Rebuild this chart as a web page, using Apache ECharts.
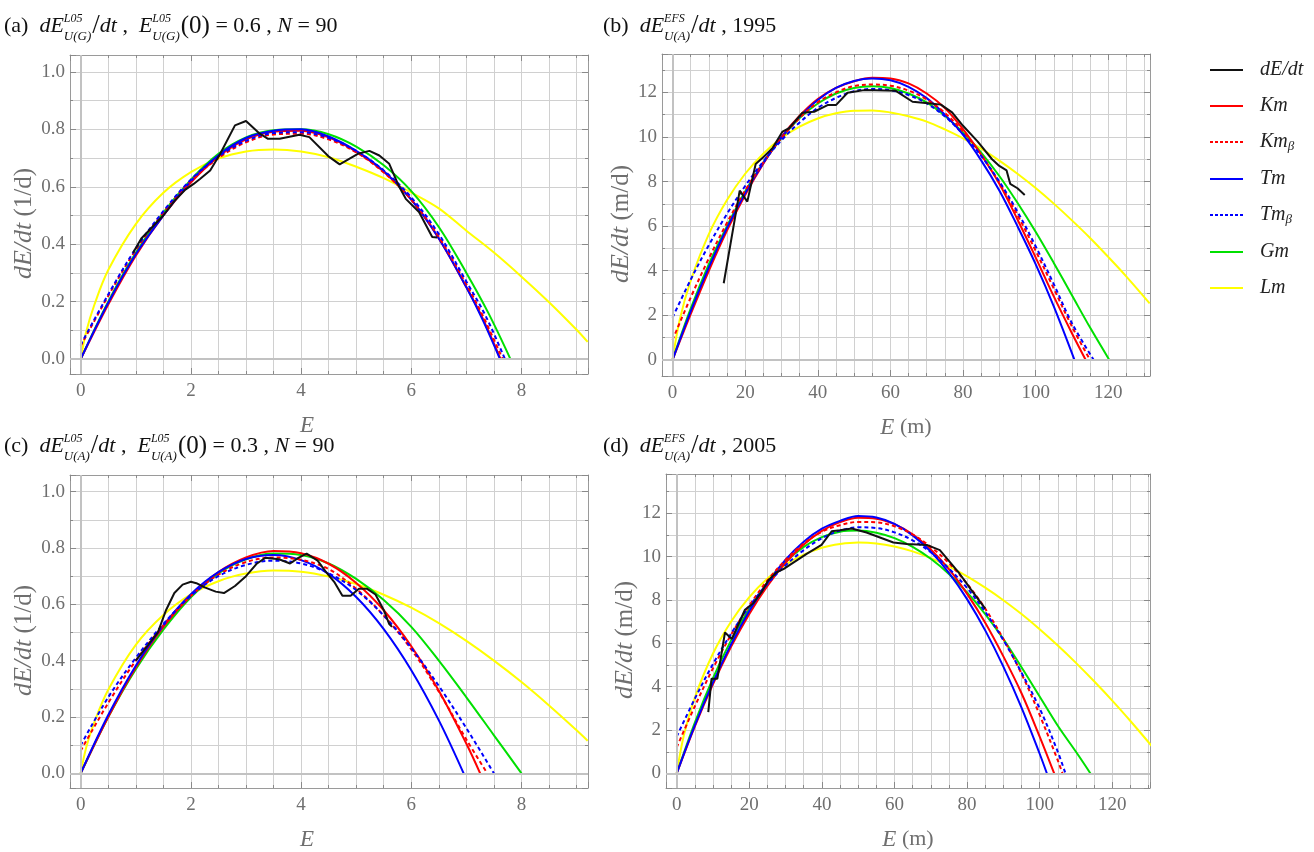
<!DOCTYPE html>
<html>
<head>
<meta charset="utf-8">
<title>dE/dt model fits</title>
<script src="https://cdn.jsdelivr.net/npm/echarts@6/dist/echarts.min.js"></script>
<style>
  html, body { margin: 0; padding: 0; background: #fff; }
  #main { width: 1314px; height: 852px; }
</style>
</head>
<body>
<div id="main"></div>
<script>
// (a) dE/dt of E^L05_U(G), E(0)=0.6, N=90   [E, dE/dt]
var aObs = [[0.95,0.37],[1.1,0.42],[1.3,0.46],[1.5,0.5],[1.7,0.55],[1.9,0.59],[2.05,0.61],[2.17,0.628],[2.35,0.657],[2.53,0.714],[2.8,0.814],[3.0,0.829],[3.25,0.785],[3.4,0.767],[3.61,0.767],[3.97,0.781],[4.15,0.773],[4.51,0.704],[4.7,0.678],[5.03,0.715],[5.24,0.725],[5.42,0.709],[5.6,0.68],[5.78,0.6],[5.9,0.558],[6.14,0.512],[6.38,0.425],[6.47,0.423]];
var aKm  = [[0,0],[0.5,0.19],[1,0.36],[1.5,0.5],[2,0.615],[2.5,0.705],[3,0.765],[3.5,0.792],[4,0.795],[4.5,0.772],[5,0.722],[5.5,0.652],[6,0.555],[6.5,0.42],[7,0.25],[7.3,0.14],[7.62,0]];
var aKmB = [[0,0.045],[0.5,0.22],[1,0.38],[1.5,0.51],[2,0.62],[2.5,0.7],[3,0.755],[3.5,0.782],[4,0.785],[4.5,0.765],[5,0.72],[5.5,0.65],[6,0.555],[6.5,0.425],[7,0.26],[7.3,0.15],[7.66,0]];
var aTm  = [[0,0],[0.5,0.196],[1,0.365],[1.5,0.5],[2,0.62],[2.5,0.71],[3,0.77],[3.5,0.795],[4,0.8],[4.5,0.775],[5,0.725],[5.5,0.655],[6,0.555],[6.5,0.42],[7,0.25],[7.3,0.135],[7.61,0]];
var aTmB = [[0,0.05],[0.5,0.225],[1,0.385],[1.5,0.515],[2,0.625],[2.5,0.705],[3,0.76],[3.5,0.787],[4,0.79],[4.5,0.77],[5,0.725],[5.5,0.657],[6,0.563],[6.5,0.435],[7,0.27],[7.35,0.15],[7.7,0]];
var aGm  = [[0,0],[0.5,0.2],[1,0.37],[1.5,0.51],[2,0.625],[2.5,0.715],[3,0.772],[3.5,0.797],[4,0.8],[4.5,0.783],[5,0.74],[5.5,0.675],[6,0.585],[6.5,0.46],[7,0.3],[7.4,0.16],[7.8,0]];
var aLm  = [[0,0],[0.1,0.095],[0.25,0.19],[0.5,0.31],[1,0.47],[1.5,0.579],[2,0.651],[2.5,0.698],[3,0.723],[3.5,0.73],[4,0.723],[4.5,0.703],[5,0.67],[5.5,0.63],[6,0.58],[6.5,0.525],[7,0.447],[7.5,0.371],[8,0.287],[8.5,0.198],[9,0.102],[9.2,0.06]];

// (b) dE^EFS_U(A)/dt, 1995   [E (m), dE/dt (m/d)]
var bObs = [[14.1,3.44],[18.5,7.59],[20.6,7.1],[22.9,8.79],[25.2,9.12],[27.5,9.49],[30.3,10.24],[32.1,10.39],[35.8,11.09],[39.0,11.13],[42.7,11.43],[45.0,11.43],[48.2,11.98],[52.8,12.1],[61.5,12.07],[66.1,11.58],[71.1,11.5],[73.9,11.45],[77,11.1],[80,10.5],[84,9.8],[88,9.0],[90,8.7],[92,8.5],[93,7.9],[95,7.7],[97,7.4]];
var bKm  = [[0,0],[5,2.05],[10,4.0],[15,5.8],[20,7.4],[25,8.8],[30,10.0],[35,10.95],[40,11.7],[45,12.2],[50,12.5],[55,12.65],[60,12.62],[65,12.4],[70,11.95],[75,11.3],[80,10.35],[85,9.2],[90,7.9],[95,6.3],[100,4.6],[105,2.85],[110,1.2],[113.8,0]];
var bKmB = [[0,0.9],[5,2.8],[10,4.55],[15,6.15],[20,7.6],[25,8.85],[30,9.95],[35,10.85],[40,11.55],[45,12.0],[50,12.28],[55,12.35],[60,12.3],[65,12.08],[70,11.68],[75,11.08],[80,10.25],[85,9.2],[90,7.95],[95,6.5],[100,4.9],[105,3.2],[110,1.5],[115,0]];
var bTm  = [[0,0],[5,2.18],[10,4.15],[15,5.92],[20,7.48],[25,8.83],[30,9.98],[35,10.9],[40,11.66],[45,12.2],[50,12.51],[55,12.62],[60,12.54],[65,12.25],[70,11.74],[75,11.0],[80,10.1],[85,8.95],[90,7.6],[95,6.0],[100,4.3],[105,2.4],[110.7,0]];
var bTmB = [[0,1.9],[5,3.6],[10,5.15],[15,6.55],[20,7.8],[25,8.9],[30,9.85],[35,10.65],[40,11.3],[45,11.75],[50,12.05],[55,12.15],[60,12.1],[65,11.88],[70,11.5],[75,10.92],[80,10.12],[85,9.15],[90,8.0],[95,6.65],[100,5.1],[105,3.4],[110,1.65],[116,0]];
var bGm  = [[0,0],[5,2.3],[10,4.3],[15,6.0],[20,7.55],[25,8.85],[30,9.95],[35,10.85],[40,11.5],[45,11.95],[50,12.2],[55,12.27],[60,12.2],[65,11.95],[70,11.55],[75,10.95],[80,10.2],[85,9.3],[90,8.25],[95,7.05],[100,5.75],[105,4.35],[110,2.9],[115,1.45],[120.3,0]];
var bLm  = [[0,0],[2,1.81],[5,3.55],[10,5.64],[15,7.17],[20,8.35],[25,9.25],[30,9.95],[35,10.46],[40,10.83],[45,11.06],[50,11.18],[55,11.19],[60,11.1],[65,10.93],[70,10.69],[75,10.34],[80,9.94],[85,9.48],[90,8.94],[95,8.35],[100,7.71],[105,7.01],[110,6.26],[115,5.47],[120,4.62],[125,3.74],[131.4,2.54]];

// (c) dE/dt of E^L05_U(A), E(0)=0.3, N=90
var cObs = [[1.0,0.4],[1.2,0.45],[1.4,0.5],[1.55,0.58],[1.7,0.64],[1.85,0.67],[2.0,0.68],[2.1,0.675],[2.25,0.66],[2.45,0.645],[2.6,0.64],[2.8,0.665],[3.0,0.7],[3.2,0.745],[3.35,0.765],[3.6,0.76],[3.8,0.745],[3.95,0.765],[4.1,0.78],[4.3,0.755],[4.45,0.715],[4.6,0.68],[4.75,0.63],[4.9,0.63],[5.05,0.655],[5.2,0.655],[5.35,0.635],[5.5,0.58],[5.6,0.53],[5.65,0.52]];
var cKm  = [[0,0],[0.5,0.2],[1,0.376],[1.5,0.52],[2,0.631],[2.5,0.714],[3,0.766],[3.5,0.789],[4,0.781],[4.5,0.744],[5,0.676],[5.5,0.579],[6,0.451],[6.5,0.293],[7,0.105],[7.25,0]];
var cKmB = [[0,0.08],[0.5,0.25],[1,0.4],[1.5,0.525],[2,0.63],[2.5,0.705],[3,0.75],[3.5,0.766],[4,0.758],[4.5,0.725],[5,0.655],[5.5,0.56],[6,0.44],[6.5,0.29],[7,0.12],[7.38,0]];
var cTm  = [[0,0],[0.5,0.207],[1,0.382],[1.5,0.525],[2,0.636],[2.5,0.714],[3,0.761],[3.5,0.775],[4,0.757],[4.5,0.708],[5,0.626],[5.5,0.512],[6,0.366],[6.5,0.188],[6.95,0]];
var cTmB = [[0,0.1],[0.5,0.27],[1,0.41],[1.5,0.53],[2,0.63],[2.5,0.7],[3,0.74],[3.5,0.755],[4,0.745],[4.5,0.71],[5,0.65],[5.5,0.56],[6,0.445],[6.5,0.31],[7,0.16],[7.5,0]];
var cGm  = [[0,0],[0.5,0.2],[1,0.37],[1.5,0.51],[2,0.625],[2.5,0.71],[3,0.76],[3.5,0.78],[4,0.775],[4.5,0.745],[5,0.69],[5.5,0.615],[6,0.52],[6.5,0.4],[7,0.27],[7.5,0.135],[8,0]];
var cLm  = [[0,0],[0.1,0.092],[0.25,0.183],[0.5,0.297],[1,0.456],[1.5,0.562],[2,0.635],[2.5,0.682],[3,0.709],[3.5,0.72],[4,0.716],[4.5,0.699],[5,0.672],[5.5,0.634],[6,0.588],[6.5,0.533],[7,0.47],[7.5,0.4],[8,0.324],[8.5,0.241],[9,0.153],[9.2,0.116]];

// (d) dE^EFS_U(A)/dt, 2005
var dObs = [[8.7,2.83],[9.6,4.37],[11.2,4.37],[13.3,6.5],[15.2,6.2],[18.8,7.55],[21.1,7.85],[23.4,8.37],[25.2,8.9],[27.5,9.27],[29.4,9.42],[35.8,10.13],[39.9,10.54],[42.7,11.17],[45.0,11.22],[48.2,11.3],[52.3,11.11],[56.0,10.88],[59.7,10.65],[63.4,10.58],[68.9,10.54],[72.5,10.3],[75,9.8],[78,9.2],[81,8.5],[85,7.6]];
var dKm  = [[0,0],[5,2.17],[10,4.12],[15,5.85],[20,7.36],[25,8.65],[30,9.72],[35,10.56],[40,11.19],[45,11.59],[50,11.79],[55,11.75],[60,11.5],[65,11.03],[70,10.33],[75,9.42],[80,8.28],[85,6.95],[90,5.4],[95,3.7],[100,1.7],[104,0]];
var dKmB = [[0,1.2],[5,3.1],[10,4.85],[15,6.4],[20,7.75],[25,8.9],[30,9.85],[35,10.6],[40,11.15],[45,11.45],[50,11.6],[55,11.58],[60,11.4],[65,11.02],[70,10.45],[75,9.7],[80,8.75],[85,7.6],[90,6.2],[95,4.6],[100,2.7],[105,0.6],[106.3,0]];
var dTm  = [[0,0],[5,2.22],[10,4.2],[15,5.96],[20,7.49],[25,8.79],[30,9.86],[35,10.69],[40,11.29],[45,11.65],[50,11.87],[55,11.8],[60,11.51],[65,10.98],[70,10.23],[75,9.25],[80,8.04],[85,6.6],[90,4.93],[95,3.04],[100,0.91],[102,0]];
var dTmB = [[0,1.7],[5,3.45],[10,5.05],[15,6.45],[20,7.7],[25,8.75],[30,9.6],[35,10.3],[40,10.85],[45,11.2],[50,11.35],[55,11.32],[60,11.12],[65,10.75],[70,10.2],[75,9.45],[80,8.55],[85,7.45],[90,6.15],[95,4.65],[100,3.0],[105,1.0],[107.1,0]];
var dGm  = [[0,0],[5,2.35],[10,4.4],[15,6.15],[20,7.6],[25,8.8],[30,9.75],[35,10.45],[40,10.9],[45,11.15],[50,11.2],[55,11.1],[60,10.85],[65,10.45],[70,9.9],[75,9.2],[80,8.35],[85,7.35],[90,6.2],[95,4.9],[100,3.55],[105,2.2],[110,1.0],[114,0]];
var dLm  = [[0,0],[2,1.79],[5,3.5],[10,5.53],[15,7.01],[20,8.13],[25,8.99],[30,9.63],[35,10.09],[40,10.41],[45,10.58],[50,10.65],[55,10.61],[60,10.47],[65,10.24],[70,9.93],[75,9.55],[80,9.09],[85,8.57],[90,7.99],[95,7.35],[100,6.65],[105,5.9],[110,5.1],[115,4.25],[120,3.36],[125,2.42],[130,1.44],[132,1.04]];

var seriesNames = ['dE/dt', 'Km', 'Kmβ', 'Tm', 'Tmβ', 'Gm', 'Lm'];

var SERIF = "'Liberation Serif', 'Times New Roman', serif";
var GRAY = '#6f6f6f';

var lineStyles = {
  'dE/dt': { color: '#111111', type: 'solid' },
  'Km':    { color: '#ff0000', type: 'solid' },
  'Kmβ':   { color: '#ff0000', type: [4, 3] },
  'Tm':    { color: '#0000ff', type: 'solid' },
  'Tmβ':   { color: '#0000ff', type: [4, 3] },
  'Gm':    { color: '#00e000', type: 'solid' },
  'Lm':    { color: '#ffff00', type: 'solid' }
};
// drawing order, bottom to top
var drawOrder = ['Lm', 'Gm', 'Km', 'Tm', 'Kmβ', 'Tmβ', 'dE/dt'];

var panels = [
  { left: 70, top: 55, width: 518, height: 319, x: [-0.194, 9.207], y: [-0.052, 1.059],
    xSplit: 5, ySplit: 5, xStep: 2, yStep: 0.2, xMinor: 4, yMinor: 2, yDec: 1,
    xName: '{i|E}', xPad: [0, 44, 0, 0], yName: '{i|dE/dt} (1/d)', yGap: 30,
    sets: { 'dE/dt': aObs, 'Km': aKm, 'Kmβ': aKmB, 'Tm': aTm, 'Tmβ': aTmB, 'Gm': aGm, 'Lm': aLm } },
  { left: 662, top: 54, width: 488, height: 322, x: [-2.9, 131.5], y: [-0.72, 13.72],
    xSplit: 7, ySplit: 7, xStep: 20, yStep: 2, xMinor: 4, yMinor: 2, yDec: 0,
    xName: '{i|E} (m)', xPad: [0, 0, 0, 0], yName: '{i|dE/dt} (m/d)', yGap: 25,
    sets: { 'dE/dt': bObs, 'Km': bKm, 'Kmβ': bKmB, 'Tm': bTm, 'Tmβ': bTmB, 'Gm': bGm, 'Lm': bLm } },
  { left: 70, top: 475, width: 518, height: 319, x: [-0.194, 9.207], y: [-0.052, 1.059],
    xSplit: 5, ySplit: 5, xStep: 2, yStep: 0.2, xMinor: 4, yMinor: 2, yDec: 1,
    xName: '{i|E}', xPad: [0, 44, 0, 0], yName: '{i|dE/dt} (1/d)', yGap: 30,
    sets: { 'dE/dt': cObs, 'Km': cKm, 'Kmβ': cKmB, 'Tm': cTm, 'Tmβ': cTmB, 'Gm': cGm, 'Lm': cLm } },
  { left: 666, top: 474, width: 484, height: 322, x: [-2.95, 130.4], y: [-0.67, 13.81],
    xSplit: 7, ySplit: 7, xStep: 20, yStep: 2, xMinor: 4, yMinor: 2, yDec: 0,
    xName: '{i|E} (m)', xPad: [0, 0, 0, 0], yName: '{i|dE/dt} (m/d)', yGap: 25,
    sets: { 'dE/dt': dObs, 'Km': dKm, 'Kmβ': dKmB, 'Tm': dTm, 'Tmβ': dTmB, 'Gm': dGm, 'Lm': dLm } }
];

function onStep(v, step) {
  var k = v / step;
  return Math.abs(k - Math.round(k)) < 1e-6;
}

function makeAxis(p, i, dim, pos) {
  var main = (pos === 'bottom' || pos === 'left');
  var ext = dim === 'x' ? p.x : p.y;
  var step = dim === 'x' ? p.xStep : p.yStep;
  var nameSize = dim === 'x' ? 23 : 26;
  var ax = {
    gridIndex: i, type: 'value', position: pos,
    min: ext[0], max: ext[1],
    splitNumber: dim === 'x' ? p.xSplit : p.ySplit,
    minInterval: step, maxInterval: step,
    axisLine: { show: true, onZero: false, lineStyle: { color: '#9a9a9a', width: 1 } },
    axisTick: { show: true, inside: true, length: 6, lineStyle: { color: '#8a8a8a' } },
    minorTick: { show: true, splitNumber: dim === 'x' ? p.xMinor : p.yMinor, length: 3, lineStyle: { color: '#8a8a8a' } },
    splitLine: { show: main, lineStyle: { color: '#d0d0d0', width: 1 } },
    minorSplitLine: { show: main, lineStyle: { color: '#d0d0d0', width: 1 } },
    axisLabel: {
      show: main, fontFamily: SERIF, fontSize: 19, color: GRAY, margin: dim === 'x' ? 8 : 5,
      showMinLabel: false, showMaxLabel: false,
      formatter: function (v) {
        if (!onStep(v, step) || v < 0) return '';
        return dim === 'y' ? v.toFixed(p.yDec) : String(Math.round(v));
      }
    }
  };
  if (main) {
    ax.name = dim === 'x' ? p.xName : p.yName;
    ax.nameLocation = 'middle';
    ax.nameGap = dim === 'x' ? 40 : p.yGap;
    ax.nameTextStyle = {
      fontFamily: SERIF, fontSize: nameSize - 1, color: GRAY,
      padding: dim === 'x' ? p.xPad : [0, 18, 0, 0],
      rich: { i: { fontFamily: SERIF, fontStyle: 'italic', fontSize: nameSize, color: GRAY } }
    };
  }
  return ax;
}

var grids = [], xAxes = [], yAxes = [], series = [];
panels.forEach(function (p, i) {
  grids.push({ left: p.left, top: p.top, width: p.width, height: p.height });
  xAxes.push(makeAxis(p, i, 'x', 'bottom'));
  xAxes.push(makeAxis(p, i, 'x', 'top'));
  yAxes.push(makeAxis(p, i, 'y', 'left'));
  yAxes.push(makeAxis(p, i, 'y', 'right'));
  // darker zero lines (plot axes)
  series.push({
    type: 'line', name: 'axes' + i, xAxisIndex: 2 * i, yAxisIndex: 2 * i, data: [],
    markLine: {
      silent: true, symbol: 'none', label: { show: false },
      lineStyle: { color: '#c2c2c2', width: 2, type: 'solid' },
      data: [{ xAxis: 0 }, { yAxis: 0 }]
    }
  });
  drawOrder.forEach(function (name) {
    var st = lineStyles[name];
    series.push({
      type: 'line', name: name, xAxisIndex: 2 * i, yAxisIndex: 2 * i,
      data: p.sets[name], showSymbol: false, symbol: 'none',
      smooth: name === 'dE/dt' ? false : 0.35,
      clip: true, animation: false,
      itemStyle: { color: st.color },
      lineStyle: { color: st.color, type: st.type, width: 2 }
    });
  });
});

// legend icons: plain stroke or short dashes
var solidIcon = 'path://M0,0H33V2.2H0Z';
var dashIcon = 'path://M0,0H3V2.2H0ZM5,0H8V2.2H5ZM10,0H13V2.2H10ZM15,0H18V2.2H15ZM20,0H23V2.2H20ZM25,0H28V2.2H25ZM30,0H33V2.2H30Z';
var legendData = seriesNames.map(function (n) {
  return { name: n, icon: lineStyles[n].type === 'solid' ? solidIcon : dashIcon };
});

// titles with stacked super/subscripts
var mctx = document.createElement('canvas').getContext('2d');
function fontStr(size, italic) { return (italic ? 'italic ' : '') + size + 'px ' + SERIF; }
function measure(t, size, italic) { mctx.font = fontStr(size, italic); return mctx.measureText(t).width; }
function txt(x, y, t, size, italic) {
  return { type: 'text', x: x, y: y, silent: true,
    style: { text: t, font: fontStr(size, italic), fill: '#111', verticalAlign: 'middle', align: 'left' } };
}
function buildTitle(x0, y0, parts) {
  var els = [], x = x0;
  parts.forEach(function (q) {
    if (q.sup !== undefined) {
      els.push(txt(x, y0 - 7, q.sup, 12, true));
      els.push(txt(x, y0 + 11, q.sub, 13, true));
      x += Math.max(measure(q.sup, 12, true), measure(q.sub, 13, true)) + 1;
    } else {
      var s = q.s || 22;
      els.push(txt(x, y0 + (q.dy || 0), q.t, s, !!q.i));
      x += measure(q.t, s, !!q.i);
    }
  });
  return els;
}
function titleL05(tag, sub, e0) {
  return [{ t: tag }, { t: '  ' }, { t: 'dE', i: 1 }, { sup: 'L05', sub: sub }, { t: '/', s: 27 },
    { t: 'dt', i: 1 }, { t: ' ,  ' }, { t: 'E', i: 1 }, { sup: 'L05', sub: sub }, { t: '(0)', s: 25 },
    { t: ' = ' + e0 + ' , ' }, { t: 'N', i: 1 }, { t: ' = 90' }];
}
function titleEFS(tag, year) {
  return [{ t: tag }, { t: '  ' }, { t: 'dE', i: 1 }, { sup: 'EFS', sub: 'U(A)' }, { t: '/', s: 27 },
    { t: 'dt', i: 1 }, { t: ' , ' + year }];
}
var graphics = []
  .concat(buildTitle(4, 26, titleL05('(a)', 'U(G)', '0.6')))
  .concat(buildTitle(603, 26, titleEFS('(b)', '1995')))
  .concat(buildTitle(4, 446, titleL05('(c)', 'U(A)', '0.3')))
  .concat(buildTitle(603, 446, titleEFS('(d)', '2005')));

var chart = echarts.init(document.getElementById('main'), null, { renderer: 'canvas' });
chart.setOption({
  animation: false,
  backgroundColor: '#ffffff',
  grid: grids,
  xAxis: xAxes,
  yAxis: yAxes,
  legend: {
    data: legendData, orient: 'vertical', left: 1205, top: 55,
    itemWidth: 33, itemHeight: 12, itemGap: 16,
    textStyle: {
      fontFamily: SERIF, fontSize: 20, fontStyle: 'italic', color: '#222', padding: [0, 0, 0, 12],
      rich: {
        i: { fontFamily: SERIF, fontSize: 20, fontStyle: 'italic', color: '#222', lineHeight: 22 },
        s: { fontFamily: SERIF, fontSize: 13, fontStyle: 'italic', color: '#222', verticalAlign: 'bottom', lineHeight: 16 }
      }
    },
    formatter: function (n) {
      if (n.slice(-1) === 'β') return '{i|' + n.slice(0, -1) + '}{s|β}';
      return '{i|' + n + '}';
    }
  },
  graphic: graphics,
  series: series
});
</script>
</body>
</html>
